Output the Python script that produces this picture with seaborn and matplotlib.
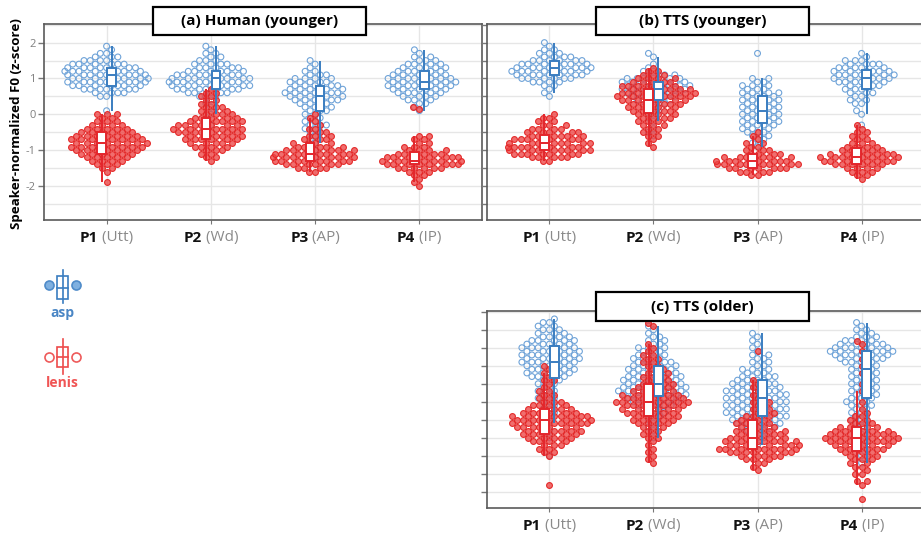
import warnings
import numpy as np
import pandas as pd
import matplotlib
matplotlib.use("Agg")
import matplotlib.pyplot as plt
from matplotlib.patches import Rectangle
import seaborn as sns

warnings.filterwarnings("ignore")

# ---------------- data ----------------
positions = ["P1", "P2", "P3", "P4"]
position_units = ["(Utt)", "(Wd)", "(AP)", "(IP)"]
panel_titles = ["(a) Human (younger)", "(b) TTS (younger)", "(c) TTS (older)"]
group_names = ["asp", "lenis"]
y_tick_values = [2, 1, 0, -1, -2]
BIN = 0.1

# Each entry: (lowest z-score bin, number of points per 0.1 bin going upward, isolated points)
human_asp = {
    "P1": (0.5, [2, 4, 6, 7, 8, 8, 8, 8, 7, 6, 4, 3, 2, 1, 1], [0.1]),
    "P2": (0.5, [3, 5, 7, 8, 8, 8, 7, 6, 5, 4, 3, 2, 2, 1, 1], [0.4, 0.3, 0.2, 0.0, -0.3]),
    "P3": (-1.2, [1, 0, 1, 0, 1, 1, 1, 2, 2, 3, 2, 2, 2, 3, 3, 4, 5, 6, 6, 6, 5, 5, 4, 3, 2, 1, 1, 1], []),
    "P4": (0.1, [1, 1, 2, 3, 4, 5, 6, 7, 7, 7, 6, 5, 5, 4, 3, 2, 1, 1], []),
}
human_lenis = {
    "P1": (-1.6, [1, 2, 3, 4, 5, 6, 7, 8, 8, 8, 7, 6, 5, 4, 3, 2, 3], [-1.9]),
    "P2": (-1.3, [1, 2, 2, 3, 4, 5, 6, 6, 7, 7, 7, 6, 5, 4, 3, 3, 2, 2, 2, 2, 1], []),
    "P3": (-1.6, [2, 4, 6, 8, 8, 8, 7, 5, 4, 3, 3, 2, 2, 1, 1, 1, 1], []),
    "P4": (-2.0, [1, 1, 1, 2, 3, 6, 8, 8, 8, 6, 4, 3, 2, 2, 2], [0.15, 0.2]),
}
tts_young_asp = {
    "P1": (0.5, [1, 1, 1, 2, 4, 6, 7, 8, 8, 7, 6, 4, 3, 2, 1, 1], []),
    "P2": (-0.6, [1, 1, 1, 0, 1, 1, 1, 2, 2, 3, 4, 5, 6, 7, 7, 7, 6, 4, 2, 1, 1, 0, 1, 1], []),
    "P3": (-0.9, [1, 1, 2, 2, 3, 3, 4, 4, 4, 4, 4, 4, 4, 4, 4, 4, 3, 3, 2, 2], [1.7]),
    "P4": (-0.3, [1, 0, 0, 1, 1, 0, 2, 2, 2, 3, 3, 4, 5, 6, 6, 6, 5, 4, 3, 1, 1], []),
}
tts_young_lenis = {
    "P1": (-1.3, [2, 5, 7, 8, 8, 8, 7, 6, 5, 4, 3, 2, 2, 1], []),
    "P2": (-0.9, [1, 1, 1, 2, 2, 2, 3, 3, 4, 4, 5, 5, 6, 7, 8, 8, 7, 6, 5, 4, 3, 2, 1], []),
    "P3": (-1.7, [2, 4, 7, 8, 8, 6, 4, 3, 2, 2, 1, 1, 1], []),
    "P4": (-1.8, [1, 2, 3, 4, 6, 8, 8, 7, 5, 4, 3, 2, 2, 2, 1, 1], []),
}
tts_old_asp = {
    "P1": (-0.4, [2, 1, 2, 1, 2, 2, 2, 2, 2, 2, 3, 4, 5, 5, 5, 6, 6, 6, 6, 6, 5, 5, 4, 3, 3, 2, 2, 1],
           [-0.6, -0.8, -1.0, -1.5]),
    "P2": (-1.0, [1, 0, 1, 1, 1, 1, 2, 2, 3, 4, 5, 6, 7, 7, 7, 6, 6, 6, 5, 5, 5, 4, 4, 3, 3, 3, 2, 2, 2,
                  1, 1, 1], []),
    "P3": (-1.2, [1, 1, 2, 2, 3, 4, 5, 5, 6, 6, 6, 6, 6, 6, 6, 6, 5, 5, 4, 4, 3, 3, 2, 2, 2, 2, 1, 1, 1,
                  1, 1, 1], []),
    "P4": (-1.3, [1, 1, 1, 1, 1, 1, 1, 2, 2, 2, 2, 2, 3, 3, 3, 3, 3, 3, 3, 3, 3, 3, 3, 3, 4, 5, 6, 7, 6,
                  5, 4, 3, 2, 2, 1, 1], [-1.5, -1.7]),
}
tts_old_lenis = {
    "P1": (-1.5, [1, 2, 2, 3, 4, 5, 6, 6, 7, 8, 8, 8, 6, 5, 4, 3, 2, 2, 2, 1, 1, 2, 1, 1, 1, 1], [-2.3]),
    "P2": (-1.7, [1, 1, 1, 1, 1, 1, 1, 2, 2, 2, 3, 4, 5, 5, 6, 6, 7, 8, 7, 6, 5, 4, 4, 3, 3, 3, 2, 2, 2,
                  2, 2, 1, 1, 1], [2.1, 2.2]),
    "P3": (-1.9, [1, 1, 2, 3, 5, 7, 8, 8, 7, 6, 5, 5, 4, 4, 3, 3, 3, 2, 2, 2, 2, 1, 1, 1, 1, 1], [1.4]),
    "P4": (-2.3, [1, 2, 0, 2, 1, 2, 2, 3, 3, 4, 5, 6, 7, 8, 7, 6, 4, 3, 2, 2, 1, 1],
           [-2.7, 0.0, 0.3, 0.5, 0.8, 1.0, 1.2, 1.4, 1.6, 1.7]),
}
panel_data = [(human_asp, human_lenis), (tts_young_asp, tts_young_lenis), (tts_old_asp, tts_old_lenis)]

# ---------------- styling ----------------
ASP_PT = "#6fa3d8"
ASP_BOX = "#3a7dc0"
LEN_FACE = (0.93, 0.27, 0.27, 0.78)
LEN_EDGE = (0.89, 0.14, 0.14, 0.95)
LEN_BOX = "#e3262c"
FRAME = "#5a5a5a"
GRID = "#e6e6e6"
LAYOUT_SIZE, LAYOUT_LW = 3.7, 0.6     # marker size used to arrange the swarm
SHOW_SIZE, SHOW_LW = 4.2, 0.8         # marker size used when drawing

W, H = 921, 536
plt.rcParams["font.family"] = ["Open Sans", "DejaVu Sans"]
fig = plt.figure(figsize=(W / 100, H / 100), dpi=100)


def px_axes(left, top, right, bottom):
    return fig.add_axes([left / W, 1 - bottom / H, (right - left) / W, (bottom - top) / H])


def expand(entry):
    start, counts, extra = entry
    vals = []
    for i, n in enumerate(counts):
        vals += [round(start + i * BIN, 2)] * n
    return vals + list(extra)


def build_frame(asp, lenis):
    rows = []
    for g, d in (("asp", asp), ("lenis", lenis)):
        for p in positions:
            for v in expand(d[p]):
                rows.append((p, g, v))
    return pd.DataFrame(rows, columns=["pos", "group", "z"])


XLIM = (-0.6, 3.6)
YLIM = (-2.95, 2.52)
axes_px = [(44, 24, 482, 220), (487, 24, 924, 220), (487, 311, 924, 508)]
axes = []
swarm_sets = []
for k, (box, (asp, lenis)) in enumerate(zip(axes_px, panel_data)):
    ax = px_axes(*box)
    axes.append(ax)
    df = build_frame(asp, lenis)
    for g, pc, face, edge in (("asp", ASP_PT, "none", ASP_PT),
                              ("lenis", LEN_BOX, LEN_FACE, LEN_EDGE)):
        n0 = len(ax.collections)
        sns.swarmplot(data=df[df.group == g], x="pos", y="z", order=positions,
                      color=pc, size=LAYOUT_SIZE, linewidth=LAYOUT_LW, ax=ax, zorder=2)
        colls = ax.collections[n0:]
        for c in colls:
            c.set_facecolor(face)
            c.set_edgecolor(edge)
        swarm_sets.append(colls)
    for g, col in (("asp", ASP_BOX), ("lenis", LEN_BOX)):
        sns.boxplot(data=df[df.group == g], x="pos", y="z", order=positions,
                    hue="group", hue_order=["lenis", "asp"], dodge=True,
                    width=0.19, gap=0.15, palette={"lenis": "white", "asp": "white"},
                    linecolor=col, linewidth=1.4, showfliers=False, showcaps=False,
                    legend=False, ax=ax, zorder=3)
    ax.set_xlim(*XLIM); ax.set_ylim(*YLIM)
    ax.set_xlabel(""); ax.set_ylabel("")
    ax.set_facecolor("white")
    ax.set_axisbelow(True)
    for s in ax.spines.values():
        s.set_color(FRAME); s.set_linewidth(1.2)
    ax.set_xticks(range(len(positions)))
    ax.set_xticklabels([])
    ax.tick_params(axis="x", length=3, color="#777777")
    ax.set_yticks(np.arange(-2.5, 2.51, 0.5), minor=True)
    if k == 0:
        ax.set_yticks(y_tick_values)
        ax.set_yticklabels([str(v) for v in y_tick_values], color="#7f7f7f", fontsize=8)
        ax.tick_params(axis="y", which="major", length=4, width=1, color="#777777", pad=2)
        ax.tick_params(axis="y", which="minor", length=0)
    else:
        ax.set_yticks(np.arange(-2.5, 2.51, 0.5))
        ax.set_yticklabels([])
        ax.tick_params(axis="y", which="major", length=4, width=1, color="#777777")
        ax.tick_params(axis="y", which="minor", length=0)
    ax.grid(True, axis="y", which="both", color=GRID, linewidth=1)
    ax.grid(True, axis="x", which="major", color=GRID, linewidth=1)

# x labels: bold position + grey unit
label_pairs = []
for ax in axes:
    for i, (p, u) in enumerate(zip(positions, position_units)):
        t1 = ax.annotate(p, xy=(i, 0), xycoords=ax.get_xaxis_transform(), xytext=(0, -18),
                         textcoords="offset pixels", ha="left", va="center",
                         fontsize=11, fontweight="bold", color="#111111")
        t2 = ax.annotate(" " + u, xy=(1, 0), xycoords=t1, ha="left", va="bottom",
                         fontsize=11, color="#8a8a8a")
        label_pairs.append((t1, t2))

# titles in boxes
title_boxes = [(153, 7, 366, 35), (596, 7, 809, 35), (596, 292, 809, 321)]
for title, (x0, y0, x1, y1) in zip(panel_titles, title_boxes):
    fig.add_artist(Rectangle((x0 / W, 1 - y1 / H), (x1 - x0) / W, (y1 - y0) / H,
                             transform=fig.transFigure, facecolor="white",
                             edgecolor="black", linewidth=1.6, zorder=10))
    fig.text((x0 + x1) / 2 / W, 1 - (y0 + y1) / 2 / H, title, ha="center", va="center",
             fontsize=11, fontweight="bold", zorder=11)

fig.text(17 / W, 1 - 124 / H, "Speaker-normalized F0 (z-score)", rotation=90,
         ha="center", va="center", fontsize=9.6, fontweight="bold")

# legend drawn in pixel coordinates
leg = fig.add_axes([0, 0, 1, 1])
leg.set_xlim(0, W); leg.set_ylim(H, 0); leg.axis("off"); leg.patch.set_alpha(0)
for (col, top, b0, b1, bot, cy, ty, mfc, mec, name, tcol) in [
        (ASP_BOX, 270, 276, 299, 303, 285, 313, "#7fb0e0", "#4f8bc9", "asp", "#4a86c5"),
        ("#ee4a4a", 339, 347, 367, 374, 357, 383, "white", "#ee5a5a", "lenis", "#f05555")]:
    leg.plot([62.5, 62.5], [top, bot], color=col, lw=1.2)
    leg.add_patch(Rectangle((57, b0), 11, b1 - b0, facecolor="white", edgecolor=col, lw=1.2))
    leg.plot([57, 68], [(b0 + b1) / 2, (b0 + b1) / 2], color=col, lw=1.2)
    leg.plot([49, 76], [cy, cy], "o", ms=6.5, mfc=mfc, mec=mec, mew=1.2, ls="none")
    leg.text(62.5, ty, name, ha="center", va="center", fontsize=10, fontweight="bold", color=tcol)

# first draw: seaborn arranges the swarms; then freeze them and enlarge markers
fig.canvas.draw()
for colls in swarm_sets:
    for c in colls:
        if "draw" in c.__dict__:
            del c.draw
        c.set_sizes([SHOW_SIZE ** 2])
        c.set_linewidth(SHOW_LW)

# center the two-part x labels
r = fig.canvas.get_renderer()
for t1, t2 in label_pairs:
    w = t1.get_window_extent(r).width + t2.get_window_extent(r).width
    t1.xyann = (-w / 2, t1.xyann[1])

fig.savefig("out.png", dpi=100)
